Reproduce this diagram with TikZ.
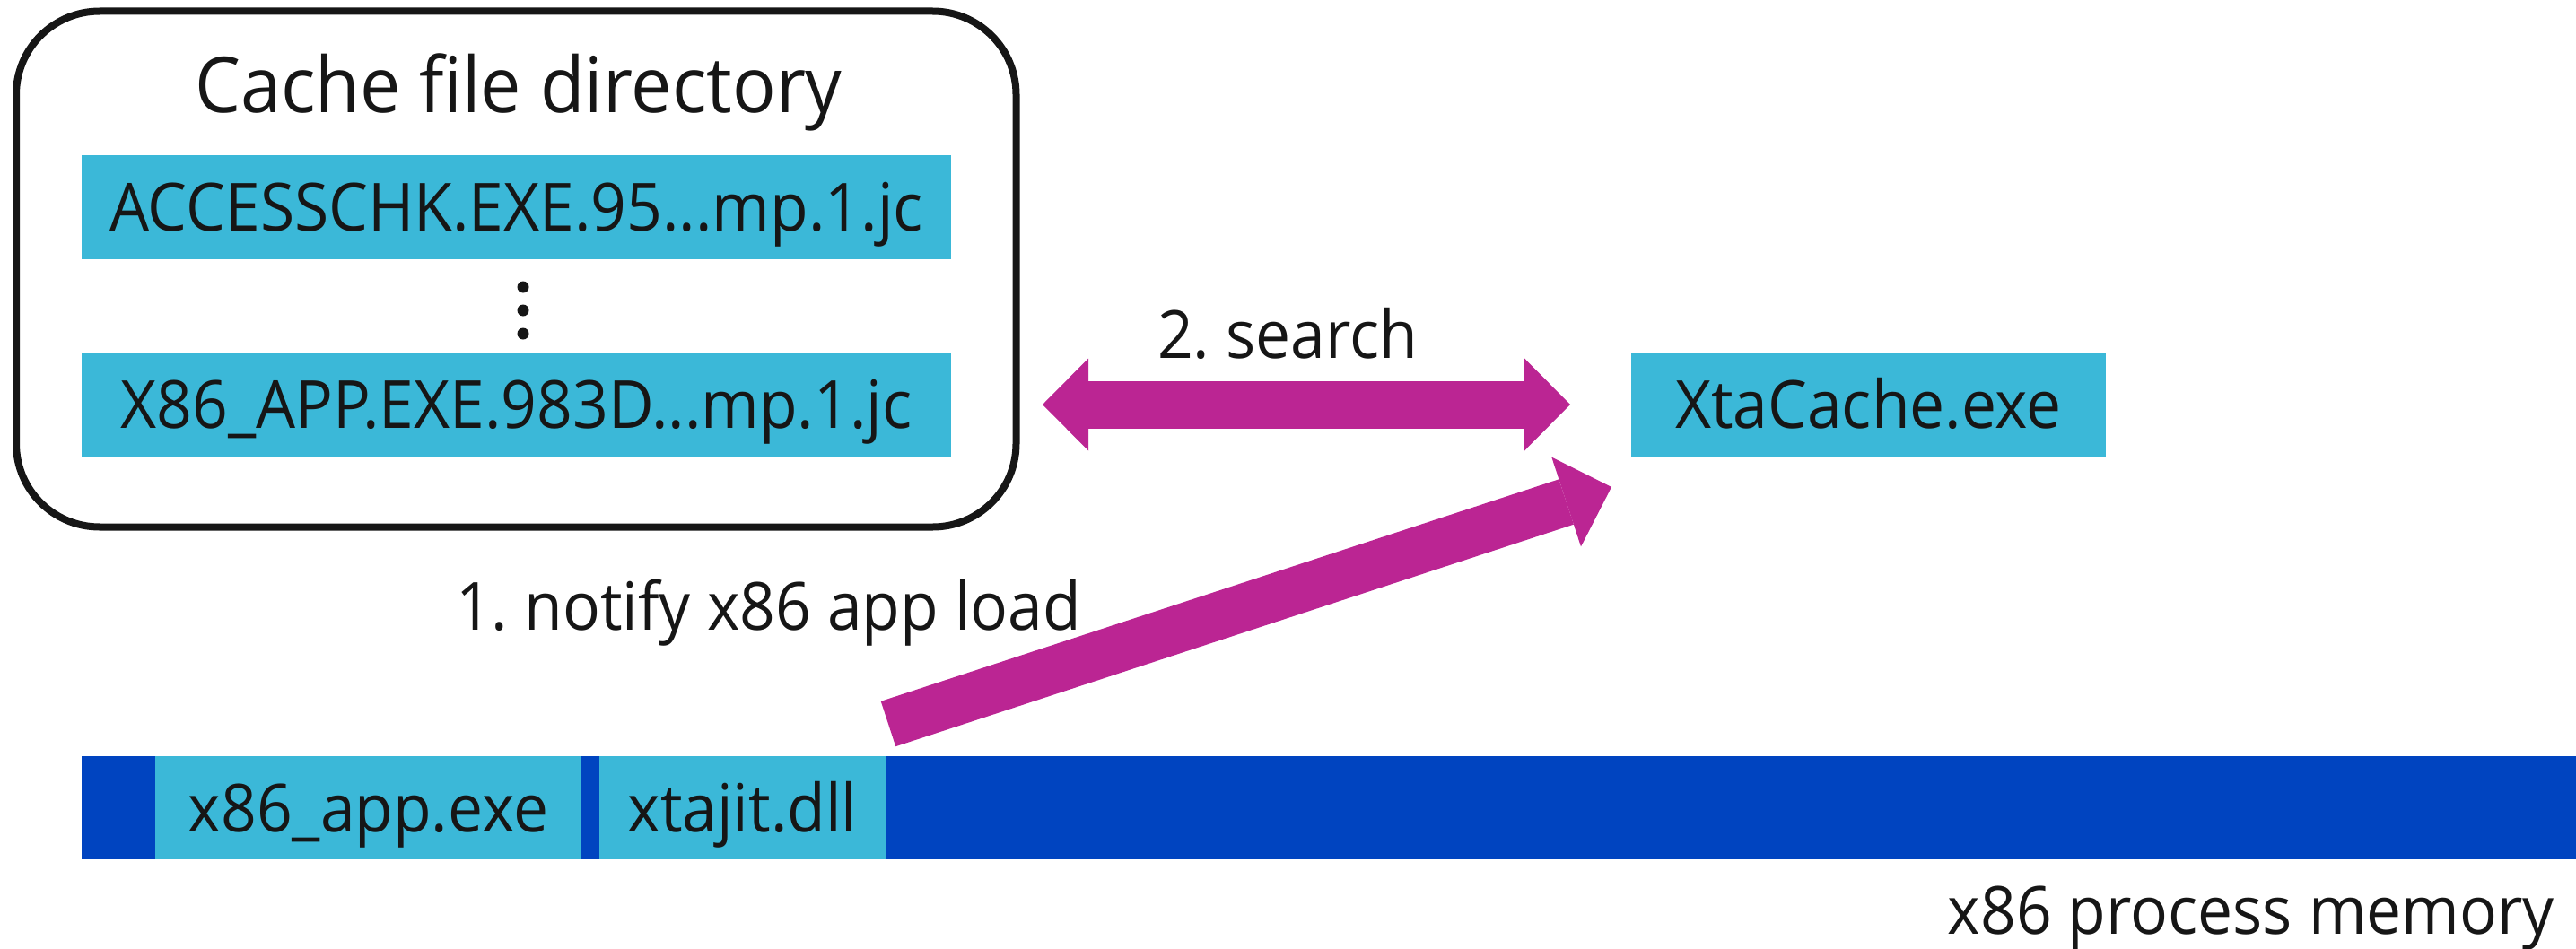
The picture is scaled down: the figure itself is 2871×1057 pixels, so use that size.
\documentclass[tikz,border=0pt]{standalone}
\usepackage{fontspec}
\setmainfont{Open Sans}[FakeStretch=0.94]
\usetikzlibrary{arrows.meta,calc}
\definecolor{cyanbox}{RGB}{59,184,216}
\definecolor{membar}{RGB}{0,68,192}
\definecolor{flow}{RGB}{187,37,147}
\definecolor{ink}{RGB}{22,22,22}
\begin{document}
\begin{tikzpicture}[x=1pt,y=-1pt,
  every node/.style={text=ink, inner sep=0pt, outer sep=0pt},
  bodyfont/.style={font=\fontsize{74}{80}\selectfont},
  tile/.style={bodyfont, fill=cyanbox, anchor=north west,
    minimum height=116pt, text height=53pt, text depth=0pt},
  caption/.style={font=\fontsize{74}{80}\selectfont},
  flowline/.style={draw=flow, line width=53pt},
]
\useasboundingbox (0,0) rectangle (2871,1057);

% cache directory frame
\node[draw=ink, line width=8pt, rounded corners=93pt, anchor=north west,
  minimum width=1114.5pt, minimum height=575pt] (dir) at (18,12.5) {};
\node[font=\fontsize{86}{92}\selectfont, anchor=base] (dirtitle) at (578,125) {Cache file directory};
\node[tile, minimum width=969pt] (first) at (91,173) {ACCESSCHK.EXE.95...mp.1.jc};
\node[tile, minimum width=969pt] (last) at (91,393) {X86\_APP.EXE.983D...mp.1.jc};
\foreach \yy in {320,346,372} \fill[ink] (583,\yy) circle (6.5pt);

% cache service
\node[tile, minimum width=529pt] (xta) at (1818,393) {XtaCache.exe};

% process memory strip
\node[fill=membar, anchor=north west, minimum width=2780pt, minimum height=115pt] (mem) at (91,843) {};
\node[tile, minimum height=115pt, minimum width=475pt] (app) at (173,843) {x86\_app.exe};
\node[tile, minimum height=115pt, minimum width=319pt] (jit) at (668,843) {xtajit.dll};
\node[bodyfont, anchor=base east] (memlbl) at (2847,1041) {x86 process memory};

% flows
\draw[flowline, {Triangle[length=51pt,width=103pt,line width=0pt]}-{Triangle[length=51pt,width=103pt,line width=0pt]}]
  ($(dir.east |- xta.west)+(29.5,0)$) -- ($(xta.west)+(-68,0)$);
\node[caption, anchor=base west] (step2) at (1290,399) {2.\hspace{-0.08em} search};

\draw[flowline, -{Triangle[length=53pt,width=105pt,line width=0pt]}]
  ($(jit.north east)+(3,-36)$) -- ($(xta.south west)+(-22,34)$);
\node[caption, anchor=base west] (step1) at (508,702) {1.\hspace{-0.08em} notify x86 app load};
\end{tikzpicture}
\end{document}
